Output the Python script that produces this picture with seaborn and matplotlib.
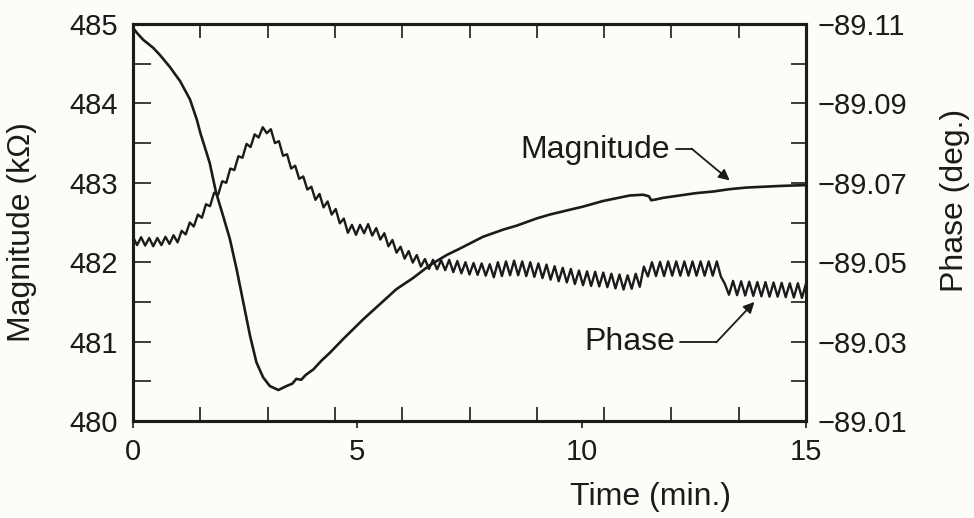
import numpy as np
import matplotlib
matplotlib.use("Agg")
import matplotlib.pyplot as plt
import seaborn as sns

# ---------------- data ----------------
mag_time = [0.0, 0.1, 0.23, 0.45, 0.6, 0.82, 1.05, 1.27, 1.42, 1.5,
            1.71, 1.85, 2.01, 2.16, 2.31, 2.46, 2.61, 2.75, 2.9, 3.05,
            3.24, 3.42, 3.55, 3.64, 3.75, 3.85, 4.02, 4.2, 4.39, 4.68,
            5.13, 5.5, 5.87, 6.24, 6.61, 6.99, 7.28, 7.8, 8.25, 8.55,
            8.99, 9.29, 9.73, 10.03, 10.47, 11.07, 11.37, 11.5, 11.55, 11.65,
            11.81, 12.18, 12.55, 12.93, 13.3, 13.67, 14.04, 14.41, 14.93, 15.0]
mag_kohm = [484.95, 484.88, 484.8, 484.7, 484.61, 484.46, 484.28, 484.05, 483.8, 483.63,
            483.25, 482.88, 482.58, 482.29, 481.91, 481.49, 481.07, 480.74, 480.55, 480.44,
            480.39, 480.44, 480.47, 480.53, 480.52, 480.58, 480.65, 480.76, 480.86, 481.03,
            481.28, 481.47, 481.66, 481.8, 481.96, 482.09, 482.17, 482.32, 482.41, 482.46,
            482.55, 482.6, 482.66, 482.7, 482.77, 482.84, 482.85, 482.83, 482.78, 482.79,
            482.81, 482.84, 482.87, 482.89, 482.92, 482.94, 482.95, 482.96, 482.97, 482.97]

# phase samples (deg), evenly spaced over 0-15 min, ripple peaks/troughs
phase_deg = [
    -89.0564, -89.0543, -89.0563, -89.0542, -89.0561, -89.0540, -89.0561, -89.0543, -89.0564, -89.0546,
    -89.0568, -89.0550, -89.0579, -89.0570, -89.0600, -89.0590, -89.0620, -89.0612, -89.0646, -89.0641,
    -89.0675, -89.0670, -89.0704, -89.0700, -89.0736, -89.0732, -89.0767, -89.0763, -89.0798, -89.0790,
    -89.0822, -89.0814, -89.0840, -89.0825, -89.0835, -89.0800, -89.0805, -89.0768, -89.0772, -89.0736,
    -89.0743, -89.0710, -89.0716, -89.0683, -89.0690, -89.0657, -89.0672, -89.0638, -89.0653, -89.0620,
    -89.0634, -89.0598, -89.0610, -89.0574, -89.0594, -89.0569, -89.0594, -89.0573, -89.0596, -89.0567,
    -89.0586, -89.0557, -89.0573, -89.0540, -89.0556, -89.0524, -89.0539, -89.0509, -89.0528, -89.0499,
    -89.0518, -89.0489, -89.0508, -89.0483, -89.0506, -89.0482, -89.0505, -89.0480, -89.0506, -89.0475,
    -89.0503, -89.0472, -89.0500, -89.0469, -89.0498, -89.0468, -89.0497, -89.0466, -89.0495, -89.0462,
    -89.0500, -89.0465, -89.0502, -89.0467, -89.0504, -89.0467, -89.0502, -89.0465, -89.0500, -89.0463,
    -89.0497, -89.0460, -89.0494, -89.0456, -89.0490, -89.0452, -89.0486, -89.0449, -89.0483, -89.0445,
    -89.0479, -89.0442, -89.0477, -89.0440, -89.0476, -89.0439, -89.0474, -89.0437, -89.0471, -89.0434,
    -89.0469, -89.0431, -89.0467, -89.0433, -89.0471, -89.0438, -89.0489, -89.0464, -89.0500, -89.0465,
    -89.0501, -89.0465, -89.0502, -89.0466, -89.0502, -89.0466, -89.0502, -89.0466, -89.0502, -89.0466,
    -89.0502, -89.0466, -89.0502, -89.0466, -89.0502, -89.0464, -89.0445, -89.0418, -89.0453, -89.0417,
    -89.0452, -89.0416, -89.0451, -89.0415, -89.0450, -89.0414, -89.0450, -89.0413, -89.0449, -89.0413,
    -89.0448, -89.0412, -89.0447, -89.0411, -89.0447, -89.0410, -89.0446,
]

time_ticks = [0, 5, 10, 15]
mag_ticks = [480, 481, 482, 483, 484, 485]
phase_ticks = [-89.11, -89.09, -89.07, -89.05, -89.03, -89.01]
phase_tick_labels = ["\u221289.11", "\u221289.09", "\u221289.07", "\u221289.05", "\u221289.03", "\u221289.01"]

# ---------------- styling ----------------
sns.set_style("ticks")
plt.rcParams["font.family"] = ["Liberation Sans", "DejaVu Sans"]
ink = "#1c1a1a"
bg = "#fcfcf8"
FS = 21
FL = 23

fig = plt.figure(figsize=(9.74, 5.18), dpi=100, facecolor=bg)
ax = fig.add_axes([133 / 974, 1 - 421 / 518, 673 / 974, 397 / 518])
ax.set_facecolor(bg)
ax2 = ax.twinx()

sns.lineplot(x=mag_time, y=mag_kohm, ax=ax, color=ink, linewidth=1.9,
             estimator=None, sort=False)
phase_time = np.linspace(0, 15, len(phase_deg))
sns.lineplot(x=phase_time, y=phase_deg, ax=ax2, color=ink, linewidth=1.7,
             estimator=None, sort=False)

ax.set_xlim(0, 15)
ax.set_ylim(480, 485)
ax2.set_ylim(-89.01, -89.11)

ax.set_xticks(time_ticks)
ax.set_xticklabels([str(t) for t in time_ticks])
ax.set_xticks(np.arange(0, 15.01, 1.5), minor=True)
ax.set_yticks(mag_ticks)
ax.set_yticklabels([str(v) for v in mag_ticks])
ax.set_yticks(np.arange(480, 485.01, 0.5), minor=True)
ax2.set_yticks(phase_ticks)
ax2.set_yticklabels(phase_tick_labels)
ax2.set_yticks(np.arange(-89.10, -89.015, 0.02), minor=True)

ax.tick_params(axis="x", which="major", direction="out", length=5, width=1.2,
               bottom=True, top=False, labelsize=FS, pad=7, colors=ink)
ax.tick_params(axis="x", which="minor", direction="in", length=10, width=1.2,
               bottom=True, top=True, colors=ink)
ax.tick_params(axis="y", which="both", direction="in", length=13, width=1.2,
               left=True, right=False, labelsize=FS, pad=11, colors=ink)
ax2.tick_params(axis="y", which="both", direction="in", length=11, width=1.2,
                right=True, left=False, labelsize=FS, pad=8, colors=ink)

for a in (ax, ax2):
    for s in a.spines.values():
        s.set_visible(True)
        s.set_linewidth(2.2)
        s.set_color(ink)
    a.set_xlabel("")
    a.set_ylabel("")

# annotations
ax.text(10.3, 483.41, "Magnitude", fontsize=FL, color=ink, ha="center", va="center")
ax.plot([12.1, 12.45], [483.43, 483.43], color=ink, lw=1.3)
ax.annotate("", xy=(13.3, 483.03), xytext=(12.45, 483.43),
            arrowprops=dict(arrowstyle="-|>", color=ink, lw=1.3, mutation_scale=16,
                            shrinkA=0, shrinkB=0))
ax.text(11.08, 481.0, "Phase", fontsize=FL, color=ink, ha="center", va="center")
ax.plot([12.2, 13.0], [480.99, 480.99], color=ink, lw=1.3)
ax.annotate("", xy=(13.85, 481.5), xytext=(13.0, 480.99),
            arrowprops=dict(arrowstyle="-|>", color=ink, lw=1.3, mutation_scale=16,
                            shrinkA=0, shrinkB=0))

fig.text(22 / 974, 1 - 232 / 518, "Magnitude (k\u03a9)", rotation=90, fontsize=FL,
         color=ink, ha="center", va="center")
fig.text(955 / 974, 1 - 200 / 518, "Phase (deg.)", rotation=90, fontsize=FL,
         color=ink, ha="center", va="center")
fig.text(650 / 974, 1 - 497 / 518, "Time (min.)", fontsize=FL, color=ink,
         ha="center", va="center")

fig.savefig("out.png", dpi=100, facecolor=bg)
